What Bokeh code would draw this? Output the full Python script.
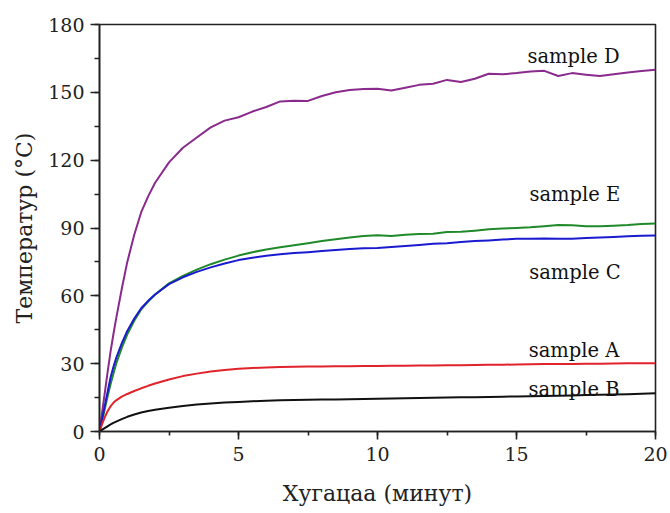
from bokeh.plotting import figure
from bokeh.models import SingleIntervalTicker, Range1d, ColumnDataSource
from bokeh.core.properties import value
from bokeh.embed import file_html
from bokeh.resources import INLINE

time_min = [0, 0.1, 0.2, 0.3, 0.4, 0.5, 0.6, 0.8, 1.0, 1.25, 1.5, 1.75, 2, 2.5, 3, 3.5, 4, 4.5,
            5, 5.5, 6, 6.5, 7, 7.5, 8, 8.5, 9, 9.5, 10, 10.5, 11, 11.5, 12, 12.5, 13, 13.5, 14,
            14.5, 15, 15.5, 16, 16.5, 17, 17.5, 18, 18.5, 19, 19.5, 20]

sample_D = [0, 9, 18, 27, 35.5, 43, 50, 63, 75, 87, 97, 104, 110, 119, 125.5, 130, 134.5, 137.5,
            139, 141.5, 143.5, 146, 146.3, 146.2, 148.4, 150, 151, 151.5, 151.6, 150.8, 152,
            153.3, 153.8, 155.5, 154.6, 156, 158.2, 158, 158.5, 159.2, 159.5, 157.2, 158.5,
            157.8, 157.2, 158, 158.8, 159.4, 160]

sample_E = [0, 5, 10.5, 16, 21, 25.5, 30, 37, 43, 49, 54, 57.5, 60.6, 65.5, 68.8, 71.6, 74,
            76, 77.8, 79.3, 80.5, 81.5, 82.4, 83.3, 84.2, 85, 85.8, 86.5, 86.8, 86.5, 87, 87.3,
            87.5, 88.2, 88.3, 88.8, 89.4, 89.8, 90, 90.3, 90.8, 91.3, 91.2, 90.8, 90.8, 91,
            91.3, 91.8, 92]

sample_C = [0, 6, 12, 18, 24, 28.5, 32.5, 39, 44.5, 50, 54.5, 57.8, 60.6, 65.2, 68.2, 70.6,
            72.6, 74.3, 75.8, 76.8, 77.7, 78.4, 78.9, 79.3, 79.8, 80.3, 80.7, 81, 81.2, 81.6,
            82, 82.5, 83, 83.3, 83.8, 84.2, 84.5, 84.9, 85.2, 85.3, 85.4, 85.3, 85.3, 85.6,
            85.8, 86, 86.3, 86.6, 86.7]

sample_A = [0, 3.5, 6.6, 9.2, 11.2, 12.7, 13.8, 15.4, 16.6, 17.9, 19.1, 20.2, 21.2, 23, 24.5,
            25.6, 26.5, 27.2, 27.7, 28.1, 28.3, 28.5, 28.6, 28.7, 28.8, 28.85, 28.9, 28.95, 29,
            29.05, 29.1, 29.15, 29.2, 29.25, 29.3, 29.4, 29.5, 29.55, 29.6, 29.7, 29.8, 29.85,
            29.9, 29.95, 30, 30.1, 30.2, 30.2, 30.2]

sample_B = [0, 0.8, 1.6, 2.4, 3.1, 3.8, 4.4, 5.5, 6.5, 7.5, 8.4, 9.1, 9.6, 10.5, 11.3, 11.9,
            12.4, 12.8, 13.1, 13.4, 13.6, 13.8, 13.9, 14, 14.1, 14.2, 14.3, 14.4, 14.5, 14.6,
            14.7, 14.8, 14.9, 15, 15.1, 15.2, 15.3, 15.4, 15.5, 15.6, 15.7, 15.8, 15.9, 16.1,
            16.2, 16.4, 16.5, 16.7, 16.9]

label_names = ["sample D", "sample E", "sample C", "sample A", "sample B"]
label_x = [17.05, 17.1, 17.1, 17.07, 17.07]
label_y = [165.9, 104.8, 70.5, 35.8, 18.4]

FONT = "DejaVu Serif"

p = figure(width=670, height=513, output_backend="svg", toolbar_location=None,
           x_range=Range1d(0, 20), y_range=Range1d(0, 180),
           min_border_left=99, min_border_right=15, min_border_top=24, min_border_bottom=82)

p.background_fill_color = "white"
p.border_fill_color = "white"
p.outline_line_color = "#222222"
p.outline_line_width = 1.6
p.xgrid.visible = False
p.ygrid.visible = False

series = [
    (sample_D, "#8a2a8c"),
    (sample_E, "#1f8a2a"),
    (sample_C, "#1a1ad0"),
    (sample_A, "#e0232a"),
    (sample_B, "#111111"),
]
for ys, col in series:
    p.line(time_min, ys, line_color=col, line_width=2, line_join="round")

src = ColumnDataSource(dict(x=label_x, y=label_y, t=label_names))
p.text(x="x", y="y", text="t", source=src, text_font=value(FONT), text_font_size="19.5px",
       text_align="center", text_baseline="alphabetic", text_color="#111111")

p.xaxis.ticker = SingleIntervalTicker(interval=5, num_minor_ticks=2)
p.yaxis.ticker = SingleIntervalTicker(interval=30, num_minor_ticks=2)

for ax in (p.xaxis[0], p.yaxis[0]):
    ax.axis_line_color = "#222222"
    ax.axis_line_width = 1.6
    ax.major_tick_line_color = "#222222"
    ax.minor_tick_line_color = "#222222"
    ax.major_tick_line_width = 1.6
    ax.minor_tick_line_width = 1.6
    ax.major_tick_in = 0
    ax.minor_tick_in = 0
    ax.major_label_text_font = FONT
    ax.major_label_text_font_size = "19px"
    ax.major_label_text_color = "#222222"
    ax.axis_label_text_font = FONT
    ax.axis_label_text_font_size = "22px"
    ax.axis_label_text_font_style = "normal"
    ax.axis_label_text_color = "#222222"

p.xaxis.major_tick_out = 8
p.xaxis.minor_tick_out = 4
p.yaxis.major_tick_out = 9
p.yaxis.minor_tick_out = 5
p.xaxis.major_label_standoff = 7
p.yaxis.major_label_standoff = 6
p.xaxis.axis_label = "Хугацаа (минут)"
p.yaxis.axis_label = "Температур (°C)"
p.xaxis.axis_label_standoff = 17
p.yaxis.axis_label_standoff = 8

open("out.html", "w").write(file_html(p, INLINE))
